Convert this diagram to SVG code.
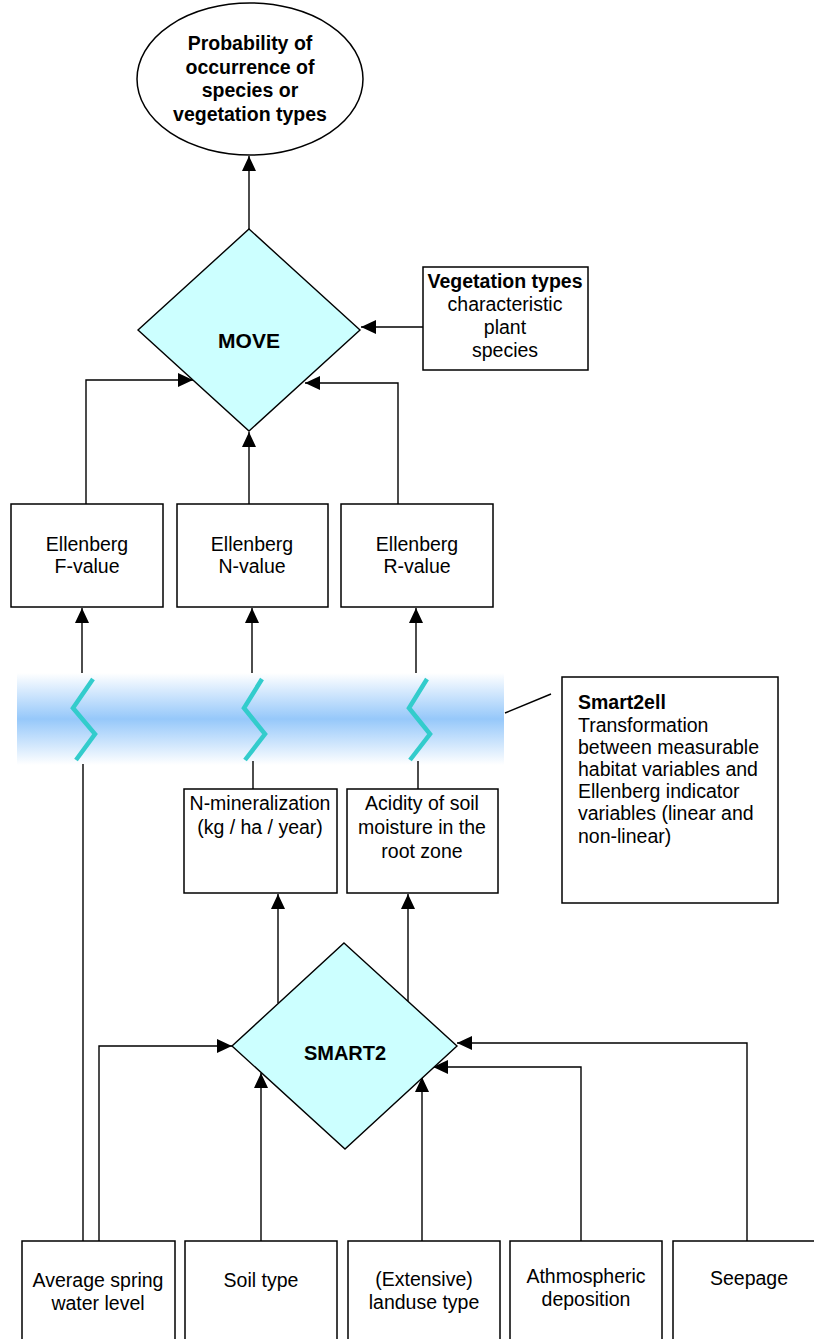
<svg xmlns="http://www.w3.org/2000/svg" width="814" height="1339" viewBox="0 0 814 1339">
<defs>
<marker id="arr" markerUnits="userSpaceOnUse" markerWidth="16" markerHeight="16" viewBox="0 0 16 16" refX="15" refY="8" orient="auto">
<path d="M0,1 L15,8 L0,15 Z" fill="#000"/>
</marker>
<linearGradient id="band" x1="0" y1="0" x2="0" y2="1">
<stop offset="0" stop-color="#ffffff"/>
<stop offset="0.5" stop-color="#96c8fa"/>
<stop offset="1" stop-color="#ffffff"/>
</linearGradient>
</defs>
<style>
.box{fill:#fff;stroke:#000;stroke-width:1.5}
.dia{fill:#ccffff;stroke:#000;stroke-width:1.4}
.t{font-family:"Liberation Sans",Arial,sans-serif;font-size:19.5px;fill:#000;text-anchor:middle}
.b{font-weight:bold}
.tl{text-anchor:start}
.c{fill:none;stroke:#000;stroke-width:1.4}
.a{marker-end:url(#arr)}
.z{fill:none;stroke:#33cccc;stroke-width:4.5}
</style>
<rect x="17" y="673" width="487" height="92" fill="url(#band)"/>
<g id="zigzags">
<polyline class="z" points="93,679 73,708 95,734 76,760"/>
<polyline class="z" points="262,679 244,708 265,734 245,760"/>
<polyline class="z" points="427,679 409,708 430,734 410,760"/>
</g>
<g id="connectors">
<line class="c a" x1="249" y1="229" x2="249" y2="156"/>
<line class="c a" x1="423" y1="327" x2="361" y2="327"/>
<polyline class="c a" points="86,504 86,380 193,380"/>
<polyline class="c a" points="398,504 398,383 305,383"/>
<line class="c a" x1="249" y1="504" x2="249" y2="432"/>
<line class="c a" x1="82" y1="673" x2="82" y2="608"/>
<line class="c a" x1="252" y1="673" x2="252" y2="608"/>
<line class="c a" x1="416" y1="673" x2="416" y2="608"/>
<line class="c" x1="83" y1="764" x2="83" y2="1241"/>
<line class="c" x1="253" y1="761" x2="253" y2="789"/>
<line class="c" x1="418" y1="761" x2="418" y2="789"/>
<line class="c" x1="505" y1="713" x2="551" y2="694"/>
<line class="c a" x1="278" y1="1003" x2="278" y2="894"/>
<line class="c a" x1="408" y1="1001" x2="408" y2="894"/>
<polyline class="c a" points="99,1241 99,1046 232,1046"/>
<line class="c a" x1="261" y1="1241" x2="261" y2="1073"/>
<line class="c a" x1="422" y1="1241" x2="422" y2="1077"/>
<polyline class="c a" points="581,1241 581,1067 433,1067"/>
<polyline class="c a" points="747,1241 747,1043 457,1043"/>
</g>
<g id="probability">
<ellipse cx="250" cy="79" rx="113" ry="76" fill="#fff" stroke="#000" stroke-width="1.5"/>
<text class="t b" x="250" y="50">Probability of</text>
<text class="t b" x="250" y="74">occurrence of</text>
<text class="t b" x="250" y="97">species or</text>
<text class="t b" x="250" y="121">vegetation types</text>
</g>
<g id="move">
<polygon class="dia" points="249,229 360,330 249,431 138,330"/>
<text class="t b" x="249" y="348" style="font-size:21px">MOVE</text>
</g>
<g id="vegetation">
<rect class="box" x="423" y="267" width="165" height="103"/>
<text class="t b" x="505" y="288">Vegetation types</text>
<text class="t" x="505" y="311">characteristic</text>
<text class="t" x="505" y="334">plant</text>
<text class="t" x="505" y="357">species</text>
</g>
<g id="ellF">
<rect class="box" x="11" y="504" width="152" height="103"/>
<text class="t" x="87" y="551">Ellenberg</text>
<text class="t" x="87" y="573">F-value</text>
</g>
<g id="ellN">
<rect class="box" x="177" y="504" width="151" height="103"/>
<text class="t" x="252" y="551">Ellenberg</text>
<text class="t" x="252" y="573">N-value</text>
</g>
<g id="ellR">
<rect class="box" x="341" y="504" width="152" height="103"/>
<text class="t" x="417" y="551">Ellenberg</text>
<text class="t" x="417" y="573">R-value</text>
</g>
<g id="smart2ell">
<rect class="box" x="562" y="677" width="216" height="226"/>
<text class="t b tl" x="578" y="709">Smart2ell</text>
<text class="t tl" x="578" y="732">Transformation</text>
<text class="t tl" x="578" y="754">between measurable</text>
<text class="t tl" x="578" y="776">habitat variables and</text>
<text class="t tl" x="578" y="798">Ellenberg indicator</text>
<text class="t tl" x="578" y="820">variables (linear and</text>
<text class="t tl" x="578" y="843">non-linear)</text>
</g>
<g id="nmin">
<rect class="box" x="184" y="789" width="153" height="104"/>
<text class="t" x="260" y="810">N-mineralization</text>
<text class="t" x="260" y="834">(kg / ha / year)</text>
</g>
<g id="acidity">
<rect class="box" x="347" y="789" width="151" height="104"/>
<text class="t" x="422" y="810">Acidity of soil</text>
<text class="t" x="422" y="834">moisture in the</text>
<text class="t" x="422" y="858">root zone</text>
</g>
<g id="smart2">
<polygon class="dia" points="344,943 457,1046 345,1149 232,1046"/>
<text class="t b" x="345" y="1060" style="font-size:20px">SMART2</text>
</g>
<g id="avgspring">
<rect class="box" x="22" y="1241" width="153" height="110"/>
<text class="t" x="98" y="1287">Average spring</text>
<text class="t" x="98" y="1310">water level</text>
</g>
<g id="soil">
<rect class="box" x="185" y="1241" width="152" height="110"/>
<text class="t" x="261" y="1287">Soil type</text>
</g>
<g id="landuse">
<rect class="box" x="348" y="1241" width="152" height="110"/>
<text class="t" x="424" y="1286">(Extensive)</text>
<text class="t" x="424" y="1309">landuse type</text>
</g>
<g id="deposition">
<rect class="box" x="510" y="1241" width="152" height="110"/>
<text class="t" x="586" y="1283">Athmospheric</text>
<text class="t" x="586" y="1306">deposition</text>
</g>
<g id="seepage">
<rect class="box" x="673" y="1241" width="153" height="110"/>
<text class="t" x="749" y="1285">Seepage</text>
</g>
</svg>
